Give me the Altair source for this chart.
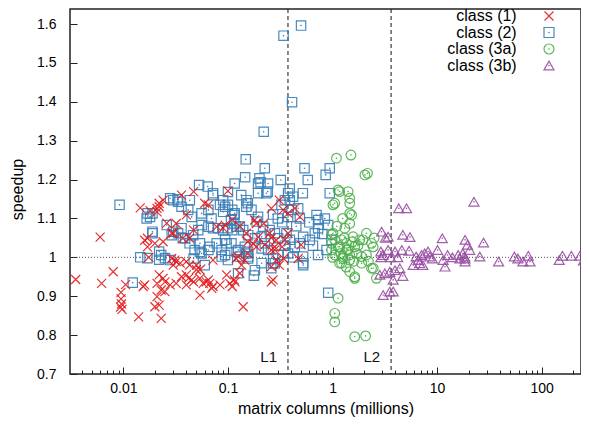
import altair as alt
import pandas as pd

CLASSES = ["class (1)", "class (2)", "class (3a)", "class (3b)"]
COLORS = ["#e41a1c", "#377eb8", "#4daf4a", "#984ea3"]
SHAPES = ["M-1,-1L1,1M-1,1L1,-1", "square", "circle", "triangle-up"]
SIZES = [81, 100, 100, 100]

X_MAJOR = [0.01, 0.1, 1, 10, 100]
X_MINOR = [0.004, 0.005, 0.006, 0.007, 0.008, 0.009,
           0.02, 0.03, 0.04, 0.05, 0.06, 0.07, 0.08, 0.09,
           0.2, 0.3, 0.4, 0.5, 0.6, 0.7, 0.8, 0.9,
           2, 3, 4, 5, 6, 7, 8, 9,
           20, 30, 40, 50, 60, 70, 80, 90, 200]
Y_TICKS = [0.7, 0.8, 0.9, 1, 1.1, 1.2, 1.3, 1.4, 1.5, 1.6]

L_X = [0.375, 3.63]
L_TEXT = ["L1", "L2"]

class1 = [
    (0.0035, 0.943), (0.006, 1.052), (0.0062, 0.933), (0.008, 0.963), (0.0095, 0.91),
    (0.0095, 0.893), (0.0096, 0.880), (0.0094, 0.872), (0.0097, 0.866), (0.0105, 0.930),
    (0.014, 0.847), (0.0145, 1.127), (0.018, 1.120), (0.022, 1.130), (0.021, 1.117),
    (0.024, 1.147), (0.032, 1.087), (0.017, 1.049), (0.0175, 1.000), (0.022, 0.955),
    (0.024, 0.946), (0.021, 0.933), (0.025, 0.937), (0.028, 0.929), (0.023, 0.916),
    (0.025, 0.912), (0.021, 0.899), (0.022, 0.877), (0.020, 0.873), (0.016, 0.929),
    (0.0155, 0.925), (0.032, 0.989), (0.030, 0.980), (0.032, 0.933), (0.023, 0.843),
    (0.016, 1.044), (0.017, 1.027), (0.020, 1.036), (0.026, 1.088), (0.030, 1.062),
    (0.029, 0.997), (0.035, 0.985), (0.040, 0.955), (0.045, 0.942), (0.050, 0.968),
    (0.054, 0.946), (0.058, 0.933), (0.062, 0.937), (0.065, 0.942), (0.067, 0.933),
    (0.054, 0.903), (0.040, 0.989), (0.043, 0.980), (0.054, 0.968), (0.072, 0.993),
    (0.070, 0.920), (0.084, 0.929), (0.097, 0.955), (0.104, 0.933), (0.110, 0.925),
    (0.115, 0.942), (0.140, 0.873), (0.120, 0.997), (0.135, 0.980), (0.270, 0.942),
    (0.310, 0.980), (0.340, 0.997), (0.330, 1.027), (0.290, 1.044), (0.260, 1.050),
    (0.250, 1.062), (0.195, 1.052), (0.187, 1.087), (0.220, 1.087), (0.175, 1.035),
    (0.150, 1.062), (0.155, 1.010), (0.130, 1.080), (0.110, 1.097), (0.090, 1.075),
    (0.100, 1.171), (0.047, 1.169), (0.060, 1.139), (0.065, 1.135), (0.310, 1.147),
    (0.260, 1.126), (0.036, 0.950), (0.042, 0.946), (0.047, 0.937), (0.040, 0.929),
    (0.117, 0.937), (0.260, 0.937), (0.260, 1.019), (0.280, 1.027), (0.072, 0.925),
    (0.130, 0.959), (0.022, 1.139), (0.021, 1.126), (0.036, 1.160), (0.040, 1.109),
    (0.047, 1.070), (0.029, 1.062), (0.024, 1.040), (0.037, 1.049), (0.043, 1.049),
    (0.078, 1.079), (0.031, 0.993), (0.050, 0.980), (0.094, 1.083), (0.180, 1.096),
    (0.337, 1.122), (0.376, 1.113), (0.436, 1.126), (0.487, 1.104), (0.376, 1.062),
    (0.350, 1.045), (0.280, 1.019), (0.290, 0.993), (0.225, 1.032), (0.187, 1.027),
    (0.155, 1.040), (0.145, 0.993), (0.125, 1.002), (0.500, 1.032), (0.470, 0.997),
    (0.260, 0.976),
]

class2 = [
    (0.34, 1.570), (0.50, 1.596), (0.41, 1.399), (0.22, 1.323), (0.148, 1.252),
    (0.146, 1.206), (0.225, 1.229), (0.20, 1.203), (0.205, 1.193), (0.32, 1.199),
    (0.39, 1.177), (0.54, 1.229), (0.58, 1.199), (0.52, 1.165), (0.94, 1.229),
    (0.86, 1.212), (0.94, 1.165), (0.0092, 1.135), (0.91, 0.909),
    (0.017, 1.113), (0.0167, 1.100), (0.028, 1.152), (0.030, 1.147), (0.033, 1.149),
    (0.019, 1.062), (0.026, 1.083), (0.029, 1.057), (0.030, 1.066), (0.0145, 1.000),
    (0.017, 0.998), (0.022, 1.015), (0.022, 0.994), (0.025, 0.998), (0.0123, 0.935),
    (0.053, 1.186), (0.064, 1.182), (0.072, 1.165), (0.100, 1.168), (0.134, 1.160),
    (0.194, 1.165), (0.233, 1.165), (0.240, 1.169),
    (0.090, 1.147), (0.094, 1.130), (0.110, 1.122), (0.115, 1.109), (0.107, 1.096),
    (0.115, 1.087), (0.100, 1.075), (0.110, 1.070), (0.120, 1.079),
    (0.150, 1.147), (0.155, 1.139), (0.150, 1.130), (0.168, 1.122),
    (0.194, 1.104), (0.188, 1.092), (0.217, 1.079), (0.251, 1.070), (0.281, 1.062),
    (0.302, 1.049), (0.210, 1.053), (0.181, 1.049), (0.156, 1.057), (0.140, 1.070),
    (0.130, 1.079),
    (0.0334, 1.143), (0.036, 1.130), (0.0432, 1.147), (0.0417, 1.122), (0.045, 1.104),
    (0.056, 1.113), (0.065, 1.122), (0.0697, 1.100), (0.065, 1.079), (0.056, 1.083),
    (0.052, 1.070), (0.0465, 1.057), (0.039, 1.049), (0.036, 1.075), (0.0334, 1.062),
    (0.048, 1.019), (0.056, 1.010), (0.060, 0.980), (0.065, 1.019), (0.087, 1.019),
    (0.094, 1.006), (0.121, 1.014), (0.130, 1.002), (0.150, 1.010), (0.156, 0.997),
    (0.181, 0.967), (0.125, 0.959), (0.177, 0.953), (0.26, 0.972), (0.27, 0.985),
    (0.21, 0.985), (0.087, 1.002), (0.156, 1.002),
    (0.376, 1.165), (0.390, 1.147), (0.420, 1.156), (0.469, 1.126), (0.406, 1.122),
    (0.376, 1.104), (0.487, 1.100),
    (0.703, 1.109), (0.728, 1.096), (0.844, 1.100), (0.908, 1.083), (0.728, 1.075),
    (0.677, 1.062), (0.607, 1.045), (0.524, 1.053), (0.487, 1.036), (0.436, 1.027),
    (0.391, 1.045), (0.363, 1.062), (0.376, 1.010), (0.524, 1.002), (0.524, 0.980),
    (0.728, 1.006), (0.876, 1.019), (0.978, 1.045),
    (0.116, 1.190), (0.194, 1.190), (0.242, 1.190), (0.116, 1.113), (0.100, 1.135),
    (0.225, 1.036), (0.242, 1.019), (0.210, 1.023), (0.145, 1.027), (0.156, 1.014),
    (0.125, 1.019), (0.108, 1.036), (0.094, 1.045), (0.302, 1.006), (0.270, 0.997),
    (0.281, 0.985), (0.350, 1.147), (0.325, 1.135),
    (0.019, 1.113), (0.018, 1.104), (0.072, 1.160), (0.084, 1.135), (0.090, 1.117),
    (0.037, 1.049), (0.043, 1.036), (0.054, 1.036), (0.054, 1.014), (0.067, 1.027),
    (0.078, 1.036), (0.090, 1.070), (0.081, 1.075), (0.072, 1.075), (0.019, 1.066),
    (0.023, 1.006), (0.028, 0.993), (0.047, 0.997), (0.097, 1.036), (0.100, 0.993),
    (0.524, 0.985), (0.45, 1.080), (0.60, 1.090), (0.80, 1.060), (0.65, 1.030),
    (0.42, 1.000), (0.33, 1.090), (0.30, 1.100), (0.27, 1.110), (0.35, 1.030),
]

class3a = [
    (1.09, 1.255), (1.50, 1.263), (2.04, 1.212), (2.16, 1.216), (1.13, 1.173),
    (1.17, 1.169), (1.41, 1.169), (1.05, 1.139), (1.46, 1.152), (1.46, 1.139),
    (1.52, 1.109), (1.46, 1.087), (1.31, 1.075), (0.98, 1.058), (1.05, 1.045),
    (1.22, 1.045), (1.36, 1.036), (1.57, 1.053), (2.11, 1.062), (1.96, 1.045),
    (1.63, 1.027), (1.36, 1.019), (1.13, 1.027), (0.98, 1.019), (1.05, 1.006),
    (1.26, 0.997), (1.46, 1.006), (1.70, 1.010), (1.89, 1.002), (2.11, 1.006),
    (2.36, 1.036), (2.45, 1.027), (1.22, 0.985), (1.46, 0.963), (1.63, 0.950),
    (2.45, 0.972), (2.63, 0.946), (1.13, 0.895), (1.05, 0.856), (1.05, 0.834),
    (1.63, 0.796), (2.07, 0.798), (1.01, 1.135), (1.46, 1.113), (1.82, 1.045),
    (1.01, 1.062), (0.98, 1.036), (1.17, 1.027), (1.26, 1.002), (1.46, 0.993),
    (1.17, 0.985), (1.63, 0.946), (2.36, 0.972), (1.30, 1.050), (1.55, 1.040),
    (1.75, 1.030), (1.40, 1.020), (1.20, 1.010), (1.60, 0.990), (1.90, 0.985),
    (2.20, 0.990), (1.35, 0.975), (1.00, 1.000), (1.10, 1.080), (1.25, 1.100),
    (2.50, 1.050),
]

class3b = [
    (22.5, 1.143), (4.3, 1.126), (5.1, 1.126), (2.95, 1.066), (3.4, 1.053),
    (4.7, 1.058), (5.5, 1.052), (11.2, 1.049), (18.5, 1.045), (19.5, 1.032),
    (20.5, 1.019), (27.8, 1.038), (3.4, 1.019), (3.96, 1.015), (4.6, 1.019),
    (5.4, 1.017), (10.1, 1.019), (12.6, 1.006), (17.6, 1.010), (18.3, 1.002),
    (25.6, 1.002), (38.7, 0.989), (54.8, 1.002), (59.2, 0.997), (74.4, 1.004),
    (77.3, 0.989), (147, 0.993), (158, 1.004), (192, 1.004), (232, 1.004),
    (251, 0.992), (3.05, 1.006), (2.9, 1.015), (6.3, 1.002), (6.6, 0.993),
    (7.1, 1.006), (7.6, 1.010), (8.2, 1.015), (8.5, 1.002), (6.8, 0.985),
    (5.9, 0.980), (7.3, 0.980), (11.4, 0.993), (11.9, 0.976), (15.9, 1.006),
    (16.5, 0.997), (18.5, 0.997), (18.5, 0.989), (2.83, 0.955), (3.16, 0.959),
    (3.53, 0.963), (3.96, 0.967), (4.4, 0.972), (4.7, 0.952), (3.8, 0.942),
    (3.05, 0.903), (3.53, 0.912), (3.8, 0.912), (66, 0.989), (3.2, 1.050),
    (2.9, 1.000), (3.6, 1.000), (4.2, 1.000), (9.0, 0.997), (14.0, 1.000),
]

rows = []
for name, pts in [(CLASSES[1], class2), (CLASSES[0], class1),
                  (CLASSES[2], class3a), (CLASSES[3], class3b)]:
    for x, y in pts:
        rows.append({"x": x, "y": y, "cls": name})
df = pd.DataFrame(rows)
df_dots = df[df["cls"] != CLASSES[0]]
df_L = pd.DataFrame({"x": L_X, "label": L_TEXT})

W, H = 511, 365
xscale = alt.Scale(type="log", domain=[0.00309, 237.5], nice=False)
yscale = alt.Scale(domain=[0.7, 1.6386], nice=False, zero=False)
color = alt.Color("cls:N", scale=alt.Scale(domain=CLASSES, range=COLORS), legend=None)

hline = alt.Chart(pd.DataFrame({"y": [1.0]})).mark_rule(
    strokeDash=[1, 2], color="#555", strokeWidth=1
).encode(y=alt.Y("y:Q", scale=yscale, axis=None))

vlines = alt.Chart(df_L).mark_rule(
    strokeDash=[4, 3], color="#111", strokeWidth=1
).encode(x=alt.X("x:Q", scale=xscale, axis=None))

ltext = alt.Chart(df_L).mark_text(
    align="right", baseline="middle", dx=-11, fontSize=15, font="Liberation Sans", color="#111"
).encode(x=alt.X("x:Q", scale=xscale, axis=None), y=alt.value(348), text="label:N")

points = alt.Chart(df).mark_point(filled=False, strokeWidth=1.2, opacity=0.9).encode(
    x=alt.X("x:Q", scale=xscale, axis=alt.Axis(
        orient="bottom", values=X_MAJOR, format="~g", ticks=False, tickSize=0,
        domain=False, grid=False, labelPadding=7, labelFontSize=14,
        title="matrix columns (millions)", titleFontSize=16, titleFontWeight="normal",
        titleY=34, titleBaseline="middle")),
    y=alt.Y("y:Q", scale=yscale, axis=alt.Axis(
        orient="left", values=Y_TICKS, format="~g", ticks=False, tickSize=0,
        domain=False, grid=False, labelPadding=14, labelFontSize=14,
        title="speedup", titleFontSize=16, titleFontWeight="normal",
        titleX=-53, titleY=180, titleAngle=-90, titleAlign="center",
        titleBaseline="middle")),
    color=color,
    shape=alt.Shape("cls:N", scale=alt.Scale(domain=CLASSES, range=SHAPES), legend=None),
    size=alt.Size("cls:N", scale=alt.Scale(domain=CLASSES, range=SIZES), legend=None),
)

dots = alt.Chart(df_dots).mark_circle(size=2.5, opacity=1).encode(
    x=alt.X("x:Q", scale=xscale, axis=None),
    y=alt.Y("y:Q", scale=yscale, axis=None),
    color=color,
)

tick_src = pd.DataFrame({"x": [1.0], "y": [1.0]})
ticks_major = alt.Chart(tick_src).mark_point(opacity=0).encode(
    x=alt.X("x:Q", scale=xscale, axis=alt.Axis(
        orient="top", offset=-H, values=X_MAJOR, labels=False, domain=False,
        grid=False, tickSize=7, tickColor="#222", tickWidth=1, title=None)),
    y=alt.Y("y:Q", scale=yscale, axis=alt.Axis(
        orient="right", offset=-W, values=Y_TICKS, labels=False, domain=False,
        grid=False, tickSize=7, tickColor="#222", tickWidth=1, title=None)),
)
ticks_minor = alt.Chart(tick_src).mark_point(opacity=0).encode(
    x=alt.X("x:Q", scale=xscale, axis=alt.Axis(
        orient="top", offset=-H, values=X_MINOR, labels=False, domain=False,
        grid=False, tickSize=4, tickColor="#222", tickWidth=1, title=None)),
    y=alt.Y("y:Q", scale=yscale, axis=None),
)

legend_layers = []
one = pd.DataFrame({"a": [0]})
for i, name in enumerate(CLASSES):
    ly = 7 + 16.5 * i
    legend_layers.append(
        alt.Chart(one).mark_text(
            align="right", baseline="middle", fontSize=16, font="Liberation Sans", color="#000"
        ).encode(x=alt.value(446.7), y=alt.value(ly), text=alt.value(name))
    )
    legend_layers.append(
        alt.Chart(one).mark_point(
            shape=SHAPES[i], size=SIZES[i], color=COLORS[i], filled=False,
            strokeWidth=1.2, opacity=0.9
        ).encode(x=alt.value(479), y=alt.value(ly))
    )
    if i > 0:
        legend_layers.append(
            alt.Chart(one).mark_circle(size=2.5, color=COLORS[i], opacity=1).encode(
                x=alt.value(479), y=alt.value(ly))
        )

chart = alt.layer(
    hline, vlines, ticks_minor, ticks_major, points, dots, ltext, *legend_layers
).resolve_axis(x="independent", y="independent").properties(
    width=W, height=H,
    autosize=alt.AutoSizeParams(type="none"),
    padding={"left": 62, "top": 1, "right": 0, "bottom": 44},
).configure_view(
    stroke="#222", strokeWidth=1.5
).configure_axis(
    labelFont="Liberation Sans", titleFont="Liberation Sans",
    labelColor="#000", titleColor="#000",
)

chart.save("out.html", embed_options={"renderer": "svg", "actions": False})
